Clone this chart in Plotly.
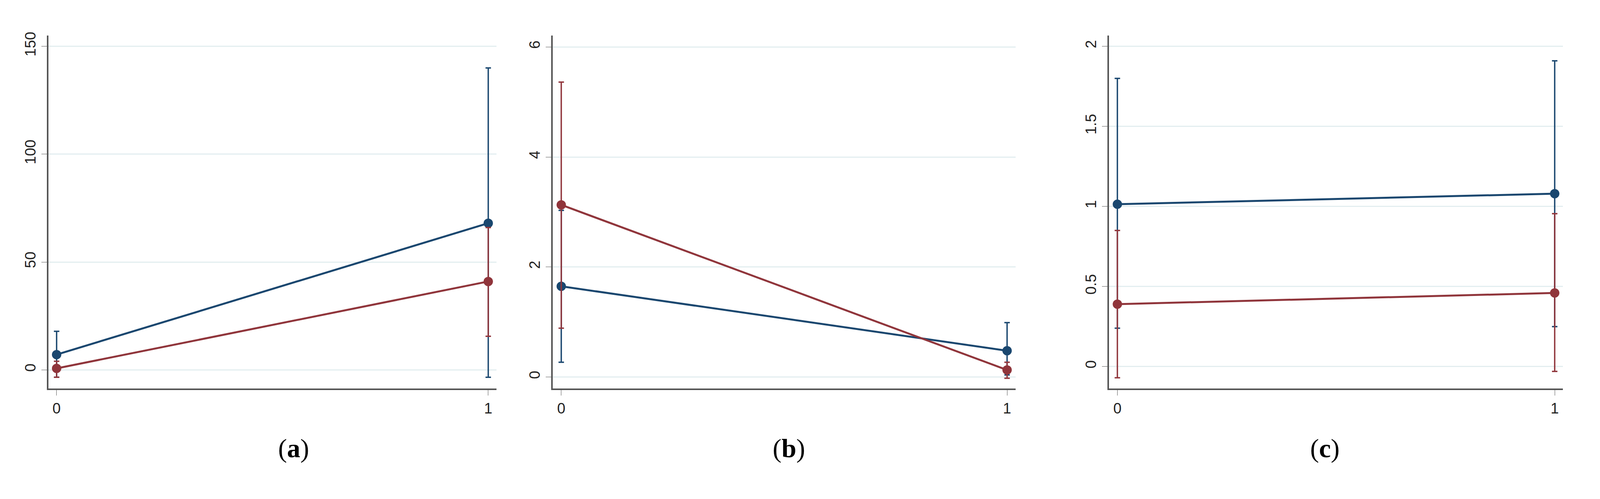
import plotly.graph_objects as go

x_vals = [0, 1]

# panel (a)
a_blue = [7.1, 68.0]
a_blue_lo = [-3.4, -3.4]
a_blue_hi = [17.9, 140.0]
a_red = [0.7, 41.0]
a_red_lo = [-3.4, 15.6]
a_red_hi = [4.0, 66.0]

# panel (b)
b_blue = [1.65, 0.48]
b_blue_lo = [0.27, 0.04]
b_blue_hi = [3.03, 0.99]
b_red = [3.13, 0.13]
b_red_lo = [0.89, -0.02]
b_red_hi = [5.36, 0.27]

# panel (c)
c_blue = [1.014, 1.08]
c_blue_lo = [0.24, 0.25]
c_blue_hi = [1.80, 1.91]
c_red = [0.39, 0.46]
c_red_lo = [-0.07, -0.03]
c_red_hi = [0.85, 0.955]

BLUE = "#1a476f"
RED = "#90353b"

panels = [
    ("a", [(a_blue, a_blue_lo, a_blue_hi, BLUE), (a_red, a_red_lo, a_red_hi, RED)],
     [-8.7, 155.1], [0, 50, 100, 150], [123, 1340]),
    ("b", [(b_blue, b_blue_lo, b_blue_hi, BLUE), (b_red, b_red_lo, b_red_hi, RED)],
     [-0.21, 6.21], [0, 2, 4, 6], [1493, 2750]),
    ("c", [(c_blue, c_blue_lo, c_blue_hi, BLUE), (c_red, c_red_lo, c_red_hi, RED)],
     [-0.138, 2.069], [0, 0.5, 1, 1.5, 2], [3004, 4237]),
]

W, H = 4329, 1278
fig = go.Figure()
layout = dict(autosize=True, margin=dict(l=0, r=0, t=0, b=0),
              plot_bgcolor="white", paper_bgcolor="white", showlegend=False,
              annotations=[])

for i, (lab, series, yr, yt, px_x) in enumerate(panels):
    n = "" if i == 0 else str(i + 1)
    for y, lo, hi, col in series:
        fig.add_trace(go.Scatter(
            x=x_vals, y=y, mode="lines+markers", xaxis="x" + n, yaxis="y" + n,
            line=dict(color=col, width=5), marker=dict(color=col, size=24),
            error_y=dict(type="data", symmetric=False,
                         array=[h - v for h, v in zip(hi, y)],
                         arrayminus=[v - l for v, l in zip(y, lo)],
                         color=col, thickness=3.5, width=7),
        ))
    d0, d1 = px_x[0] / W, px_x[1] / W
    tf = dict(size=38, family="Liberation Sans", color="#222")
    layout["xaxis" + n] = dict(domain=[d0, d1], anchor="y" + n, range=[-0.019, 1.019],
                               tickvals=[0, 1], showgrid=False, zeroline=False,
                               showline=True, linecolor="#555", linewidth=4,
                               ticks="outside", ticklen=14, tickcolor="#555", tickfont=tf)
    layout["yaxis" + n] = dict(domain=[1 - 998 / H, 1 - 75 / H], anchor="x" + n, range=yr,
                               tickvals=yt, tickangle=-90, showgrid=True, gridcolor="#e3eef0",
                               gridwidth=3, zeroline=False, showline=True, linecolor="#555",
                               linewidth=4, ticks="outside", ticklen=14, tickcolor="#555",
                               tickfont=tf)
    layout["annotations"].append(dict(
        text="(<b>" + lab + "</b>)", xref="paper", yref="paper",
        x=(d0 + d1) / 2 + 0.003, y=1 - 1194 / H, showarrow=False,
        font=dict(size=68, family="Liberation Serif", color="black")))

fig.update_layout(**layout)
fig.write_html("out.html", default_width="100%", default_height="100%")
